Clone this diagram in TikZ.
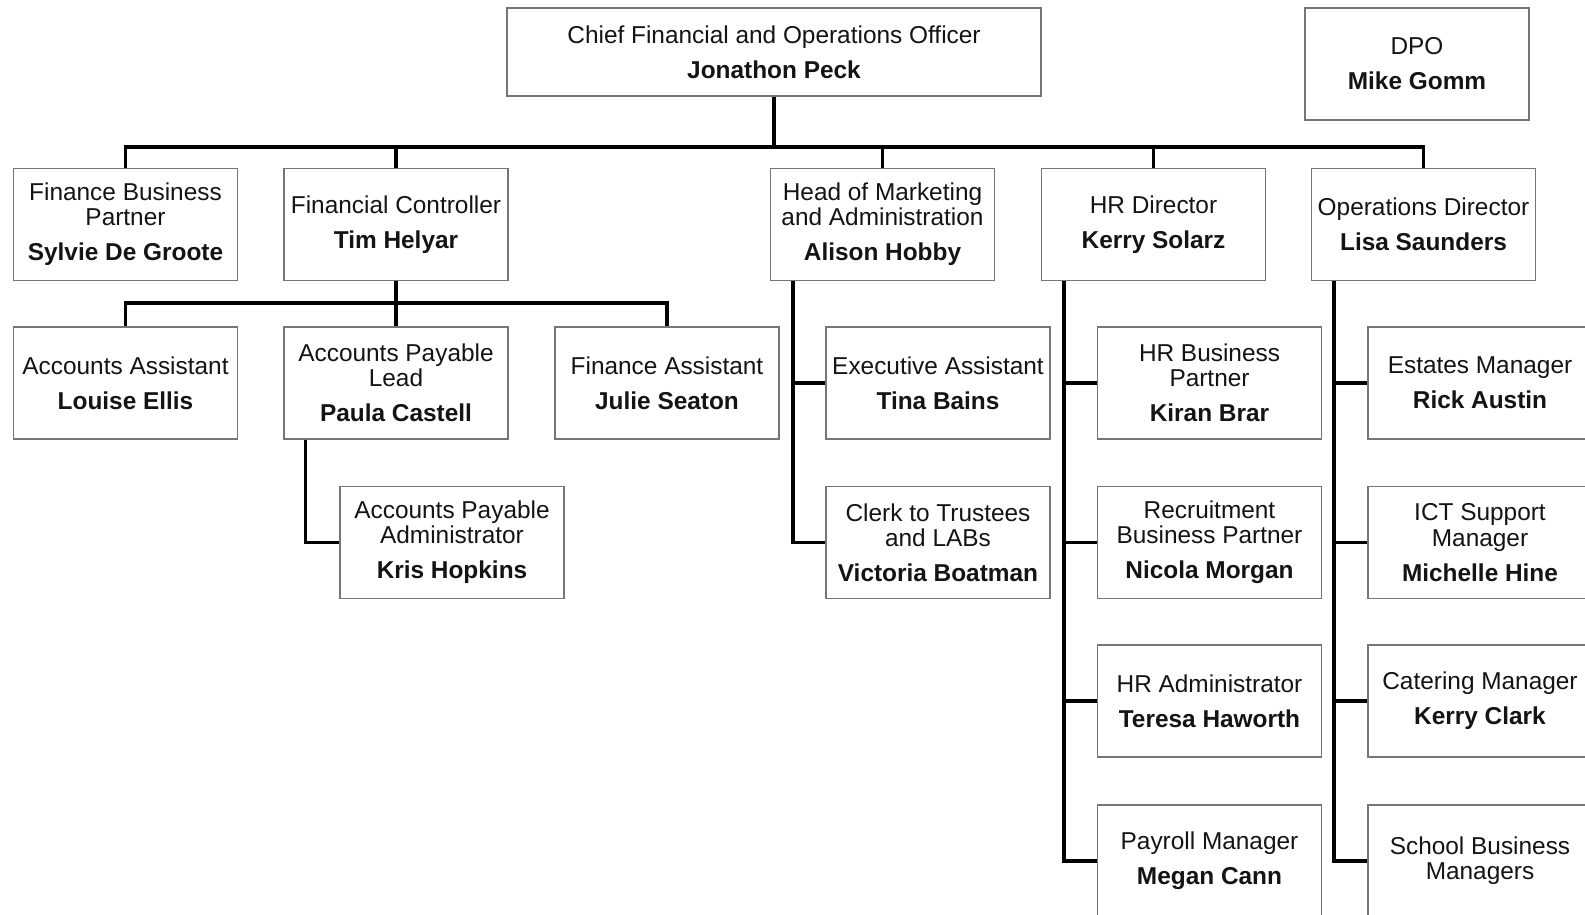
\documentclass[tikz,border=0pt]{standalone}
\usepackage{fontspec}
\setmainfont{Liberation Sans}
\definecolor{boxgray}{RGB}{118, 118, 118}
\definecolor{inkblack}{RGB}{20, 20, 20}
\newcommand{\post}[2]{#1\\[4.9pt]\textbf{#2}}

\begin{document}
\begin{tikzpicture}[x=0.5pt, y=-0.5pt,
            role/.style={draw=boxgray, line width=0.6pt, fill=white, text=inkblack,
                minimum width=112pt, minimum height=56pt, inner sep=0pt, align=center,
                font=\fontsize{12.2}{12.6}\selectfont},
            link/.style={black, line width=1.6pt}]
            \fill[white] (0,0) rectangle (1585,915);
            \useasboundingbox (0,0) rectangle (1585,915);

            % top
            \node[role, minimum width=267pt, minimum height=44pt] (cfo) at ( 774.0,  52.0) {\post{Chief Financial and Operations Officer}{Jonathon Peck}};
            \node[role]                                           (dpo) at (1417.0,  64.0) {\post{DPO}{Mike Gomm}};

            % directors
            \node[role] (fbp)  at ( 125.5, 224.5) {\post{Finance Business\\Partner}{Sylvie De Groote}};
            \node[role] (fc)   at ( 396.0, 224.5) {\post{Financial Controller}{Tim Helyar}};
            \node[role] (hom)  at ( 882.5, 224.5) {\post{Head of Marketing\\and Administration}{Alison Hobby}};
            \node[role] (hrd)  at (1153.5, 224.5) {\post{HR Director}{Kerry Solarz}};
            \node[role] (ops)  at (1423.5, 224.5) {\post{Operations Director}{Lisa Saunders}};

            % finance team
            \node[role] (aa)   at ( 125.5, 383.0) {\post{Accounts Assistant}{Louise Ellis}};
            \node[role] (apl)  at ( 396.0, 383.0) {\post{Accounts Payable\\Lead}{Paula Castell}};
            \node[role] (fa)   at ( 667.0, 383.0) {\post{Finance Assistant}{Julie Seaton}};
            \node[role] (apa)  at ( 452.0, 542.5) {\post{Accounts Payable\\Administrator}{Kris Hopkins}};

            % marketing team
            \node[role] (ea)   at ( 938.0, 383.0) {\post{Executive Assistant}{Tina Bains}};
            \node[role] (ct)   at ( 938.0, 542.5) {\post{Clerk to Trustees\\and LABs}{Victoria Boatman}};

            % hr team
            \node[role] (hrbp) at (1209.5, 383.0) {\post{HR Business\\Partner}{Kiran Brar}};
            \node[role] (rbp)  at (1209.5, 542.5) {\post{Recruitment\\Business Partner}{Nicola Morgan}};
            \node[role] (hra)  at (1209.5, 701.0) {\post{HR Administrator}{Teresa Haworth}};
            \node[role] (pm)   at (1209.5, 861.0) {\post{Payroll Manager}{Megan Cann}};

            % operations team
            \node[role] (em)   at (1480.0, 383.0) {\post{Estates Manager}{Rick Austin}};
            \node[role] (ict)  at (1480.0, 542.5) {\post{ICT Support\\Manager}{Michelle Hine}};
            \node[role] (cm)   at (1480.0, 701.0) {\post{Catering Manager}{Kerry Clark}};
            \node[role] (sbm)  at (1480.0, 861.0) {School Business\\Managers};

            % buses
            \coordinate (bus)   at (774.0, 147.0);
            \coordinate (fcbus) at (396.0, 303.0);

            \draw[link] (cfo.south) -- (bus);
            \draw[link] (fbp.north) |- (bus) -| (ops.north);
            \foreach \n in {fc, hom, hrd}
                \draw[link] (\n.north) -- (\n.north |- bus);

            \draw[link] (fc.south) -- (fcbus);
            \draw[link] (aa.north) |- (fcbus) -| (fa.north);
            \draw[link] (apl.north) -- (fcbus);
            \draw[link] ([xshift=11pt]apl.south west) |- (apa.west);

            \foreach \n in {ea, ct}
                \draw[link] ([xshift=11.5pt]hom.south west) |- (\n.west);
            \foreach \n in {hrbp, rbp, hra, pm}
                \draw[link] ([xshift=11.5pt]hrd.south west) |- (\n.west);
            \foreach \n in {em, ict, cm, sbm}
                \draw[link] ([xshift=11.5pt]ops.south west) |- (\n.west);
        \end{tikzpicture}
\end{document}
